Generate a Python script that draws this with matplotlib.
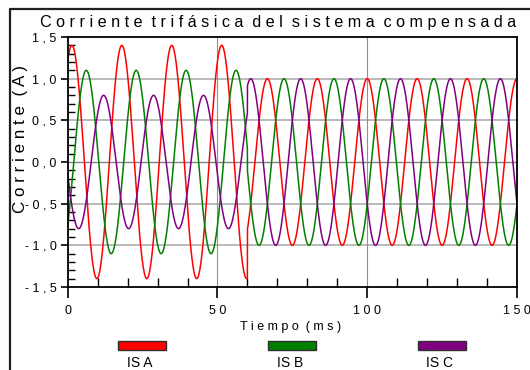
import numpy as np
import matplotlib
matplotlib.use("Agg")
import matplotlib.pyplot as plt
from matplotlib.patches import Rectangle
from matplotlib.lines import Line2D

plt.rcParams['font.family'] = ['Liberation Sans', 'DejaVu Sans']

# fases del sistema: amplitud (A) y tiempo del primer pico (ms)
fases = ["IS A", "IS B", "IS C"]
colores = ["#ff0000", "#008000", "#800080"]
amp_antes = [1.4, 1.1, 0.8]
pico_antes = [1.4, 6.2, 12.0]
amp_despues = [1.0, 1.0, 1.0]
pico_despues = [0.0, 5.56, 11.11]
t_comp = 60.0      # instante de compensacion (ms)
f_red = 60.0       # Hz

yticks = [-1.5, -1.0, -0.5, 0.0, 0.5, 1.0, 1.5]
ytick_labels = ["-1,5", "-1,0", "-0,5", "0,0", "0,5", "1,0", "1,5"]
xticks = [0, 50, 100, 150]
xtick_labels = ["0", "50", "100", "150"]


def espaciar(frase):
    # letras separadas por un espacio, palabras por dos
    return "  ".join(" ".join(w) for w in frase.split())


def ajustar(txt, ancho_px):
    # ajusta el tamaño de letra para que el texto ocupe ancho_px
    r = fig.canvas.get_renderer()
    for _ in range(3):
        bb = txt.get_window_extent(r)
        w = bb.height if txt.get_rotation() == 90 else bb.width
        txt.set_fontsize(txt.get_fontsize() * ancho_px / w)


t = np.arange(0, 150.01, 0.02)
periodo = 1000.0 / f_red

fig = plt.figure(figsize=(5.3, 3.7), dpi=100)
ax = fig.add_axes([67.7/530, 1-287/370, (517-67.7)/530, (287-37)/370])

# rejilla
for y in [-1.0, -0.5, 0.5, 1.0]:
    ax.axhline(y, color="#b4b4b4", lw=1.3, zorder=0)
ax.axhline(0, color="#808080", lw=1.0, zorder=0)
for x in [50, 100]:
    ax.axvline(x, color="#909090", lw=0.8, zorder=0)

for i in range(3):
    antes = amp_antes[i] * np.cos(2*np.pi*(t - pico_antes[i])/periodo)
    despues = amp_despues[i] * np.cos(2*np.pi*(t - pico_despues[i])/periodo)
    i_s = np.where(t < t_comp, antes, despues)
    ax.plot(t, i_s, color=colores[i], lw=1.1, zorder=2)

ax.set_xlim(0, 150)
ax.set_ylim(-1.5, 1.5)
ax.set_xticks(xticks)
ax.set_xticklabels([" ".join(s) for s in xtick_labels])
ax.set_yticks(yticks)
ax.set_yticklabels([" ".join(s) for s in ytick_labels])
ax.set_xticks(np.arange(10, 150, 10), minor=True)
ax.set_yticks(np.arange(-1.4, 1.45, 0.1), minor=True)
ax.tick_params(axis='both', which='major', direction='out', labelsize=9, width=1.2, color='black')
ax.tick_params(axis='x', which='major', length=8, pad=5)
ax.tick_params(axis='y', which='major', length=5, pad=3)
ax.tick_params(axis='x', which='minor', direction='in', length=6.5, width=1.0)
ax.tick_params(axis='y', which='minor', direction='in', length=5, width=1.0)
for s in ax.spines.values():
    s.set_linewidth(1.3)

titulo = fig.text(278/530, 1-22/370, espaciar("Corriente trifásica del sistema compensada"),
                  ha='center', va='center', fontsize=12)
ylab = fig.text(21/530, 1-139/370, espaciar("Corriente (A)"),
                rotation=90, ha='center', va='center', fontsize=10)
xlab = fig.text(291/530, 1-327/370, espaciar("Tiempo (ms)"),
                ha='center', va='center', fontsize=9)
ajustar(titulo, 472)
ajustar(ylab, 148)

# leyenda
x_ley = [118, 268, 418]
for i in range(3):
    fig.patches.append(Rectangle((x_ley[i]/530, 1-350/370), 48/530, 9/370,
                                 transform=fig.transFigure, facecolor=colores[i],
                                 edgecolor="#303030", lw=1.0))
    fig.text((x_ley[i]+22)/530, 1-363/370, fases[i], ha='center',
             va='center', fontsize=10)

# marco exterior
fig.lines.append(Line2D([10/530, 10/530, 1.0], [0.0, 1-9/370, 1-9/370],
                        transform=fig.transFigure, color="#202020", lw=1.6))

fig.savefig("out.png", dpi=100)
